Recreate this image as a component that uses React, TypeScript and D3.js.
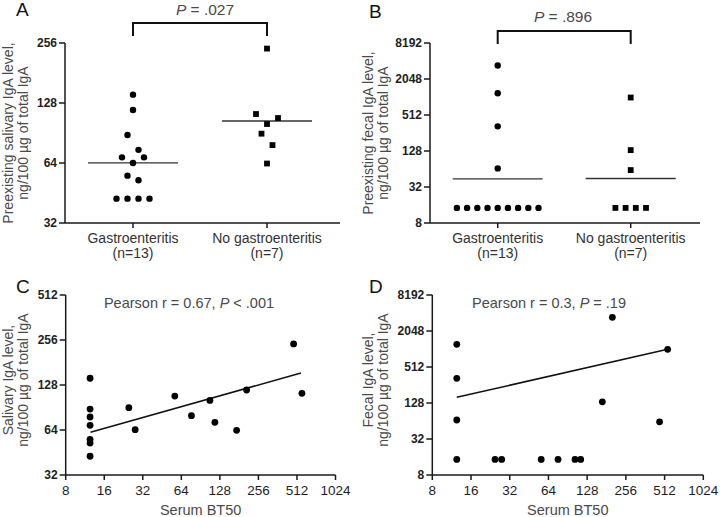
import React from "react";
import * as d3 from "d3";

const FONT = '"Liberation Sans", Arial, Helvetica, sans-serif';

// ---------- Panels A & B (dot plots) ----------
const groups = ["Gastroenteritis", "No gastroenteritis"];
const groupN = ["(n=13)", "(n=7)"];

const salivaryGastro = [141, 118, 88.4, 74.5, 68.3, 68.3, 64, 55.3, 52.4, 42.4, 42.4, 42.4, 42.4];
const salivaryGastroSlot = [0, 0, -1, 1, -2, 2, 0, -1, 1, -3, -1, 1, 3];
const salivaryNoGastro = [240, 112.7, 107.6, 100.4, 89.8, 78.7, 63.6];
const salivaryNoGastroSlot = [0, -2, 2, 0, -1, 1, 0];

const fecalGastro = [3444, 1185, 331, 65.5, 14.3, 14.3, 14.3, 14.3, 14.3, 14.3, 14.3, 14.3, 14.3];
const fecalGastroSlot = [0, 0, 0, 0, -8, -6, -4, -2, 0, 2, 4, 6, 8];
const fecalNoGastro = [1003, 132.5, 61.4, 14.3, 14.3, 14.3, 14.3];
const fecalNoGastroSlot = [0, 0, 0, -3, -1, 1, 3];

const ticksA = [32, 64, 128, 256];
const ticksB = [8, 32, 128, 512, 2048, 8192];
const pTextA = ".027";
const pTextB = ".896";

// ---------- Panels C & D (scatter) ----------
const serumC = [12.4, 12.4, 12.4, 12.4, 12.4, 12.4, 12.4, 24.9, 27.9, 56.9, 76.8, 107, 117, 173, 207, 482, 560];
const salivaryC = [142, 88.4, 78.2, 68.8, 55.4, 52.4, 42.7, 90.2, 64.3, 108, 79.8, 101, 72, 63.7, 118.5, 241, 112.6];
const fitCx = [12.5, 550];
const fitCy = [61.8, 154];

const serumD = [12.4, 12.4, 12.4, 12.4, 24.6, 27.7, 56.2, 76, 103, 114, 168, 201, 468, 541];
const fecalD = [1228, 331, 66.5, 14.6, 14.6, 14.6, 14.6, 14.6, 14.6, 14.6, 134, 3470, 62, 1012];
const fitDx = [12.4, 541];
const fitDy = [159.5, 1012];

const ticksXCD = [8, 16, 32, 64, 128, 256, 512, 1024];
const ticksYC = [32, 64, 128, 256, 512];
const ticksYD = [8, 32, 128, 512, 2048, 8192];

const AXIS = "#1a1a1a";
const TICKTXT = "#1e1e1e";
const GRAY = "#4a4a4a";

function geoMean(v: number[]) {
  return Math.pow(2, d3.mean(v, (d) => Math.log2(d)) as number);
}

function YAxis({ scale, ticks, x }: { scale: any; ticks: number[]; x: number }) {
  const [y0, y1] = scale.range();
  return (
    <g>
      <line x1={x} x2={x} y1={y0} y2={y1} stroke={AXIS} strokeWidth={1.5} />
      {ticks.map((t) => (
        <g key={t}>
          <line x1={x - 6} x2={x} y1={scale(t)} y2={scale(t)} stroke={AXIS} strokeWidth={1.5} />
          <text x={x - 8} y={scale(t)} dy="0.36em" textAnchor="end" fontSize={12} fontWeight="bold" fill={TICKTXT} fontFamily={FONT}>
            {t}
          </text>
        </g>
      ))}
    </g>
  );
}

function YLabel({ x, y, lines }: { x: number; y: number; lines: string[] }) {
  return (
    <g>
      {lines.map((l, i) => (
        <text key={i} transform={`translate(${x + i * 14.5},${y}) rotate(-90)`} textAnchor="middle" fontSize={14} fill={GRAY} fontFamily={FONT}>
          {l}
        </text>
      ))}
    </g>
  );
}

function DotPanel(props: {
  letter: string; letterX: number; letterY: number;
  axisX: number; axisEnd: number; catRange: [number, number];
  yDomain: [number, number]; ticks: number[];
  g1: number[]; s1: number[]; g2: number[]; s2: number[]; slotUnit: number;
  bracketTop: number; bracketBottom: number; pText: string; pX: number; pY: number;
  labelX: number; labelLines: string[];
}) {
  const y = d3.scaleLog().base(2).domain(props.yDomain).range([223, 43]);
  const x = d3.scalePoint<string>().domain(groups).range(props.catRange);
  const cx1 = x(groups[0]) as number;
  const cx2 = x(groups[1]) as number;
  const m1 = geoMean(props.g1);
  const m2 = geoMean(props.g2);
  const half = 45;
  const sq = 5.8;
  return (
    <g>
      <text x={props.letterX} y={props.letterY} fontSize={19} fill="#111" fontFamily={FONT}>{props.letter}</text>
      <text x={props.pX} y={props.pY} textAnchor="middle" fontSize={15.5} fill={GRAY} fontFamily={FONT}>
        <tspan fontStyle="italic">P</tspan> = {props.pText}
      </text>
      <path
        d={`M${cx1},${props.bracketBottom}V${props.bracketTop}H${cx2}V${props.bracketBottom}`}
        fill="none" stroke="#111" strokeWidth={2}
      />
      <YAxis scale={y} ticks={props.ticks} x={props.axisX} />
      <line x1={props.axisX} x2={props.axisEnd} y1={223} y2={223} stroke={AXIS} strokeWidth={1.5} />
      {groups.map((g, i) => (
        <g key={g}>
          <line x1={x(g)} x2={x(g)} y1={223} y2={228} stroke={AXIS} strokeWidth={1.5} />
          <text x={x(g)} y={243} textAnchor="middle" fontSize={14} fill="#333" fontFamily={FONT}>{g}</text>
          <text x={x(g)} y={258} textAnchor="middle" fontSize={14} fill="#333" fontFamily={FONT}>{groupN[i]}</text>
        </g>
      ))}
      <line x1={cx1 - half} x2={cx1 + half} y1={y(m1)} y2={y(m1)} stroke="#333" strokeWidth={1.3} />
      <line x1={cx2 - half} x2={cx2 + half} y1={y(m2)} y2={y(m2)} stroke="#333" strokeWidth={1.3} />
      {props.g1.map((v, i) => (
        <circle key={"a" + i} cx={cx1 + props.s1[i] * props.slotUnit} cy={y(v)} r={3.2} fill="#000" />
      ))}
      {props.g2.map((v, i) => (
        <rect key={"b" + i} x={cx2 + props.s2[i] * props.slotUnit - sq / 2} y={y(v) - sq / 2} width={sq} height={sq} fill="#000" />
      ))}
      <YLabel x={props.labelX} y={133} lines={props.labelLines} />
    </g>
  );
}

function ScatterPanel(props: {
  letter: string; letterX: number; xRange: [number, number];
  yDomain: [number, number]; yTicks: number[];
  xs: number[]; ys: number[]; fitX: number[]; fitY: number[];
  pearson: React.ReactNode; pearsonX: number; labelX: number; labelLines: string[];
}) {
  const x = d3.scaleLog().base(2).domain([8, 1024]).range(props.xRange);
  const y = d3.scaleLog().base(2).domain(props.yDomain).range([475, 295]);
  const line = d3.line<number>().x((_, i) => x(props.fitX[i])).y((d) => y(d));
  const axisX = props.xRange[0];
  return (
    <g>
      <text x={props.letterX} y={293} fontSize={19} fill="#111" fontFamily={FONT}>{props.letter}</text>
      <YAxis scale={y} ticks={props.yTicks} x={axisX} />
      <line x1={axisX} x2={props.xRange[1]} y1={475} y2={475} stroke={AXIS} strokeWidth={1.5} />
      {ticksXCD.map((t) => (
        <g key={t}>
          <line x1={x(t)} x2={x(t)} y1={475} y2={480} stroke={AXIS} strokeWidth={1.5} />
          <text x={x(t)} y={495} textAnchor="middle" fontSize={13.5} fill={TICKTXT} fontFamily={FONT}>{t}</text>
        </g>
      ))}
      <text x={(props.xRange[0] + props.xRange[1]) / 2} y={515} textAnchor="middle" fontSize={14.5} fill={GRAY} fontFamily={FONT}>
        Serum BT50
      </text>
      <text x={props.pearsonX} y={308} textAnchor="middle" fontSize={14.5} fill={GRAY} fontFamily={FONT}>
        {props.pearson}
      </text>
      <path d={line(props.fitY) as string} fill="none" stroke="#111" strokeWidth={1.5} />
      {props.xs.map((v, i) => (
        <circle key={i} cx={x(v)} cy={y(props.ys[i])} r={3.4} fill="#000" />
      ))}
      <YLabel x={props.labelX} y={380} lines={props.labelLines} />
    </g>
  );
}

export default function App() {
  return (
    <svg width={720} height={517} style={{ position: "absolute", left: 0, top: 0, background: "#fff" }}>
      <rect width={720} height={517} fill="#fff" />
      <DotPanel
        letter="A" letterX={16} letterY={16}
        axisX={65} axisEnd={340} catRange={[133, 267]}
        yDomain={[32, 256]} ticks={ticksA}
        g1={salivaryGastro} s1={salivaryGastroSlot} g2={salivaryNoGastro} s2={salivaryNoGastroSlot} slotUnit={5.5}
        bracketTop={23} bracketBottom={36} pText={pTextA} pX={205} pY={15}
        labelX={13} labelLines={["Preexisting salivary IgA level,", "ng/100 µg of total IgA"]}
      />
      <DotPanel
        letter="B" letterX={369} letterY={18}
        axisX={430} axisEnd={700} catRange={[497.7, 630.7]}
        yDomain={[8, 8192]} ticks={ticksB}
        g1={fecalGastro} s1={fecalGastroSlot} g2={fecalNoGastro} s2={fecalNoGastroSlot} slotUnit={5.1}
        bracketTop={31} bracketBottom={44} pText={pTextB} pX={563} pY={21.5}
        labelX={373} labelLines={["Preexisting fecal IgA level,", "ng/100 µg of total IgA"]}
      />
      <ScatterPanel
        letter="C" letterX={16} xRange={[65.7, 335.5]}
        yDomain={[32, 512]} yTicks={ticksYC}
        xs={serumC} ys={salivaryC} fitX={fitCx} fitY={fitCy}
        pearson={<>Pearson r = 0.67, <tspan fontStyle="italic">P</tspan> {"< .001"}</>}
        pearsonX={189} labelX={13} labelLines={["Salivary IgA level,", "ng/100 µg of total IgA"]}
      />
      <ScatterPanel
        letter="D" letterX={369} xRange={[432.3, 703.3]}
        yDomain={[8, 8192]} yTicks={ticksYD}
        xs={serumD} ys={fecalD} fitX={fitDx} fitY={fitDy}
        pearson={<>Pearson r = 0.3, <tspan fontStyle="italic">P</tspan> = .19</>}
        pearsonX={549} labelX={373} labelLines={["Fecal IgA level,", "ng/100 µg of total IgA"]}
      />
    </svg>
  );
}
